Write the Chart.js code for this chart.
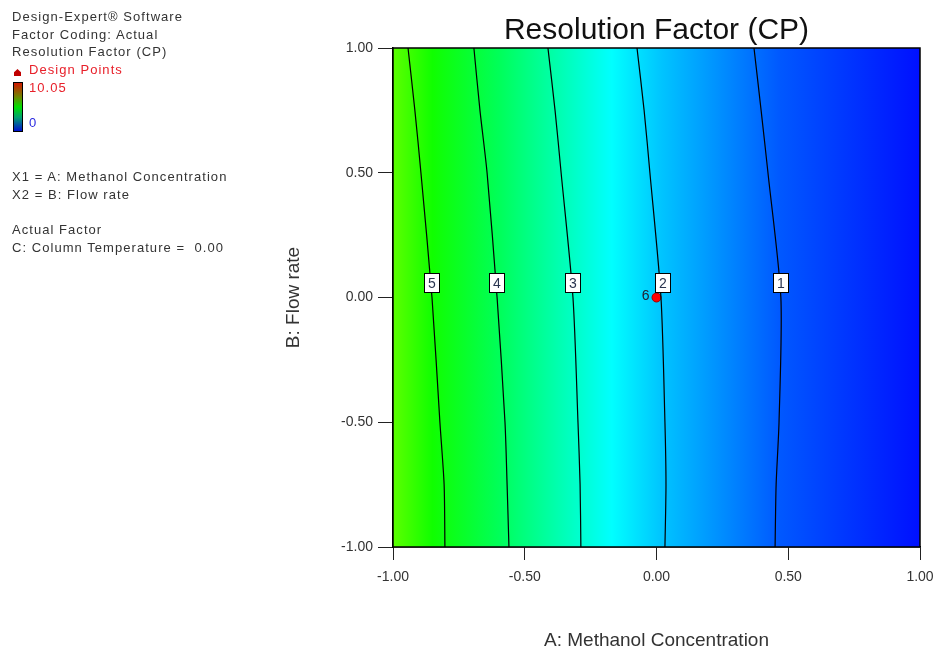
<!DOCTYPE html>
<html>
<head>
<meta charset="utf-8">
<script src="https://cdn.jsdelivr.net/npm/chart.js@4.4.1/dist/chart.umd.min.js"></script>
<style>
  body { margin: 0; background: #fff; }
  #wrap { position: relative; width: 937px; height: 650px; font-family: "Liberation Sans", Arial, sans-serif; }
  #wrap canvas { position: absolute; left: 0; top: 0; }
  .side { position: absolute; left: 12px; font-size: 13px; line-height: 16px; color: #333; letter-spacing: 1.05px; white-space: nowrap; }
  .red { color: #e8202a; }
  .blue { color: #2a2ae0; }
  #bar { position: absolute; left: 13px; top: 82px; width: 8px; height: 48px; border: 1px solid #000;
         background: linear-gradient(to bottom, #d01800, #6a8a00 30%, #00e000 50%, #00a070 72%, #0010d0); }
  #pt { position: absolute; left: 14px; top: 69px; width: 7px; height: 7px; background: #c00000;
        clip-path: polygon(50% 0, 100% 45%, 100% 100%, 0 100%, 0 45%); }
</style>
</head>
<body>
<div id="wrap">
  <canvas id="contour" width="937" height="650"></canvas>
  <div class="side" style="top:9px">Design-Expert® Software</div>
  <div class="side" style="top:27px">Factor Coding: Actual</div>
  <div class="side" style="top:44px">Resolution Factor (CP)</div>
  <div id="pt"></div>
  <div class="side red" style="top:62px; left:29px">Design Points</div>
  <div id="bar"></div>
  <div class="side red" style="top:80px; left:29px">10.05</div>
  <div class="side blue" style="top:115px; left:29px">0</div>
  <div class="side" style="top:169px">X1 = A: Methanol Concentration</div>
  <div class="side" style="top:187px">X2 = B: Flow rate</div>
  <div class="side" style="top:222px">Actual Factor</div>
  <div class="side" style="top:240px">C: Column Temperature =&nbsp; 0.00</div>
</div>
<script>
// valores (x = A: Methanol, y = B: Flow rate)
const flowLevels = [1, 0.75, 0.5, 0, -0.5, -0.75, -1];
const contour1 = [0.370, 0.397, 0.423, 0.472, 0.465, 0.454, 0.450];
const contour2 = [-0.074, -0.047, -0.025, 0.017, 0.032, 0.036, 0.032];
const contour3 = [-0.412, -0.385, -0.362, -0.317, -0.298, -0.290, -0.287];
const contour4 = [-0.693, -0.670, -0.643, -0.605, -0.575, -0.567, -0.560];
const contour5 = [-0.943, -0.917, -0.894, -0.852, -0.822, -0.806, -0.803];

const contourNames = ['1', '2', '3', '4', '5'];
const labelX = [0.472, 0.025, -0.317, -0.605, -0.852];
const labelY = [0.058, 0.058, 0.058, 0.058, 0.058];

const designX = [0];
const designY = [0];
const designRuns = ['6'];

// cores do fundo (posição em A)
const gradientStops = [-1, -0.85, -0.6, -0.32, -0.17, 0.02, 0.47, 1];
const gradientColors = ['#5cff00', '#10ff00', '#00ff58', '#00ffc4', '#00ffff', '#00c4ff', '#0058ff', '#0010ff'];

const tickValues = [-1, -0.5, 0, 0.5, 1];

Chart.defaults.font.family = '"Liberation Sans", Arial, sans-serif';
Chart.defaults.color = '#333';

const contours = [contour1, contour2, contour3, contour4, contour5];
const lineSets = contours.map((c, i) => ({
    label: contourNames[i],
    data: c.map((x, j) => ({ x: x, y: flowLevels[j] })),
    showLine: true,
    borderColor: '#000',
    borderWidth: 1.2,
    pointRadius: 0,
    tension: 0.25
}));

const designSet = {
    label: 'Design Points',
    data: designX.map((x, i) => ({ x: x, y: designY[i] })),
    pointRadius: 4.5,
    pointBackgroundColor: '#ff0000',
    pointBorderColor: '#a00000',
    pointBorderWidth: 1
};

// fundo em degradê
const backgroundFill = {
    id: 'backgroundFill',
    beforeDatasetsDraw(chart) {
        const { ctx, chartArea: a, scales } = chart;
        const g = ctx.createLinearGradient(a.left, 0, a.right, 0);
        gradientStops.forEach((v, i) => {
            const p = (scales.x.getPixelForValue(v) - a.left) / (a.right - a.left);
            g.addColorStop(Math.min(1, Math.max(0, p)), gradientColors[i]);
        });
        ctx.save();
        ctx.fillStyle = g;
        ctx.fillRect(a.left, a.top, a.right - a.left, a.bottom - a.top);
        ctx.restore();
    }
};

// caixas dos rótulos, moldura e número do ponto
const contourLabels = {
    id: 'contourLabels',
    afterDatasetsDraw(chart) {
        const { ctx, chartArea: a, scales } = chart;
        ctx.save();
        ctx.font = '14px "Liberation Sans", Arial, sans-serif';
        ctx.textAlign = 'center';
        ctx.textBaseline = 'middle';
        contourNames.forEach((name, i) => {
            const px = Math.round(scales.x.getPixelForValue(labelX[i]));
            const py = Math.round(scales.y.getPixelForValue(labelY[i]));
            ctx.fillStyle = '#fff';
            ctx.fillRect(px - 7.5, py - 9.5, 15, 19);
            ctx.strokeStyle = '#000';
            ctx.lineWidth = 1;
            ctx.strokeRect(px - 7.5, py - 9.5, 15, 19);
            ctx.fillStyle = '#2a3550';
            ctx.fillText(name, px, py + 1);
        });
        designRuns.forEach((run, i) => {
            const px = scales.x.getPixelForValue(designX[i]);
            const py = scales.y.getPixelForValue(designY[i]);
            ctx.fillStyle = '#223';
            ctx.textAlign = 'right';
            ctx.fillText(run, px - 7, py - 1);
        });
        ctx.strokeStyle = '#000';
        ctx.lineWidth = 1.5;
        ctx.strokeRect(a.left, a.top, a.right - a.left, a.bottom - a.top);
        ctx.restore();
    }
};

new Chart(document.getElementById('contour'), {
    type: 'scatter',
    data: { datasets: [...lineSets, designSet] },
    options: {
        responsive: false,
        animation: false,
        layout: { padding: { left: 0, right: 17, top: 0, bottom: 0 } },
        plugins: { legend: { display: false }, tooltip: { enabled: false } },
        scales: {
            x: {
                type: 'linear',
                position: 'bottom',
                min: -1,
                max: 1,
                afterBuildTicks: (s) => { s.ticks = tickValues.map(v => ({ value: v })); },
                ticks: { callback: (v) => v.toFixed(2), font: { size: 14 }, padding: 9, maxRotation: 0 },
                grid: { drawOnChartArea: false, drawTicks: true, tickLength: 13, color: '#222' },
                border: { display: true, color: '#000', width: 1.5 },
                title: { display: true, text: 'A: Methanol Concentration', font: { size: 19, lineHeight: 1 }, padding: { top: 0, bottom: 0 } },
                afterFit: (s) => { s.height = 103; s.paddingLeft = 0; s.paddingRight = 0; }
            },
            xTop: {
                type: 'linear',
                position: 'top',
                min: -1,
                max: 1,
                ticks: { display: false },
                grid: { display: false },
                border: { display: false },
                title: { display: true, text: 'Resolution Factor (CP)', color: '#111', font: { size: 30, lineHeight: 1 }, padding: { top: 16, bottom: 0 } },
                afterFit: (s) => { s.height = 48; s.paddingLeft = 0; s.paddingRight = 0; }
            },
            y: {
                type: 'linear',
                position: 'left',
                min: -1,
                max: 1,
                afterBuildTicks: (s) => { s.ticks = tickValues.map(v => ({ value: v })); },
                ticks: { callback: (v) => v.toFixed(2), font: { size: 14 }, padding: 5 },
                grid: { drawOnChartArea: false, drawTicks: true, tickLength: 15, color: '#222' },
                border: { display: true, color: '#000', width: 1.5 },
                title: { display: true, text: 'B: Flow rate', font: { size: 19, lineHeight: 1 }, padding: { top: 284, bottom: 0 } },
                afterFit: (s) => { s.width = 393; }
            }
        }
    },
    plugins: [backgroundFill, contourLabels]
});
</script>
</body>
</html>
